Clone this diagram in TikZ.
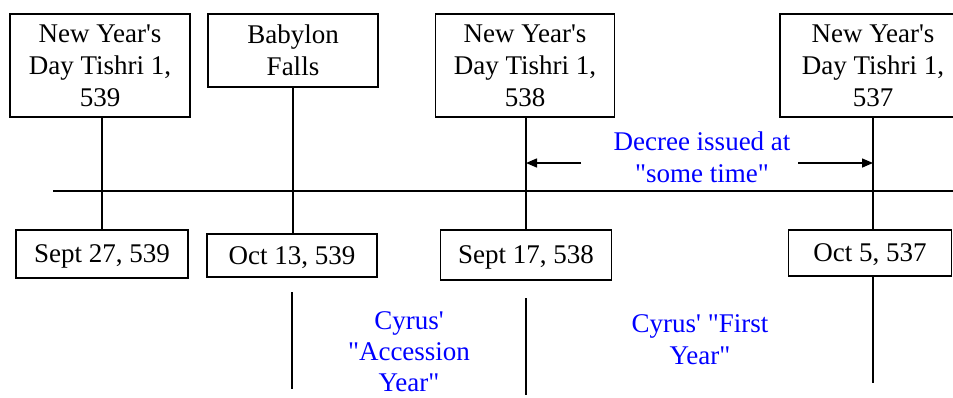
\documentclass[tikz,border=0pt]{standalone}
\usepackage{fontspec}
\setmainfont{Liberation Serif}
\usetikzlibrary{positioning,arrows.meta}

\newcommand{\sq}{\textquotesingle}
\newcommand{\dq}{\textquotedbl}

\begin{document}
\begin{tikzpicture}[
  x=1pt, y=-1pt,
  font=\fontsize{27}{32}\selectfont,
  evt/.style={rectangle, draw=black, line width=1.5pt, inner sep=0pt, fill=white, align=center},
  day/.style={evt, text depth=0pt},
  note/.style={text=blue, align=center, inner sep=0pt, anchor=north},
  tick/.style={draw=black, line width=1.5pt},
  span/.style={-{Triangle[length=11pt,width=9pt]}, draw=black, line width=1.5pt}
]
\useasboundingbox (0,0) rectangle (953,397);

% events above the line
\node[evt, minimum width=180pt, minimum height=103pt] (ny539) at (100,65.5) {New Year\sq s\\Day Tishri 1,\\539};
\node[evt, minimum width=170pt, minimum height=73pt]  (fall)  at (293,50.5) {Babylon\\Falls};
\node[evt, minimum width=179pt, minimum height=103pt] (ny538) at (525,65.5) {New Year\sq s\\Day Tishri 1,\\538};
\node[evt, minimum width=186pt, minimum height=103pt] (ny537) at (873,65.5) {New Year\sq s\\Day Tishri 1,\\537};

% dates below the line
\node[day, minimum width=172pt, minimum height=48pt] (sep27) at (102,254)   {Sept 27, 539};
\node[day, minimum width=170pt, minimum height=43pt] (oct13) at (292,255.5) {Oct 13, 539};
\node[day, minimum width=171pt, minimum height=50pt] (sep17) at (526,255)   {Sept 17, 538};
\node[day, minimum width=163pt, minimum height=46pt] (oct5)  at (870,253)   {Oct 5, 537};

% time line
\coordinate (axisL) at (53,190.75);
\coordinate (axisR) at (960,190.75);
\draw[tick] (axisL) -- (axisR);

\draw[tick] (sep27.north) -- (sep27.north |- ny539.south);
\draw[tick] (oct13.north -| fall.south) -- (fall.south);
\draw[tick] (sep17.north) -- (sep17.north |- ny538.south);
\draw[tick] (ny537.south) -- (ny537.south |- oct5.north);

% year limits
\coordinate (accA) at (292,292);
\coordinate (accB) at (292,389);
\coordinate (firA) at (526,298);
\coordinate (firB) at (526,395);
\coordinate (endB) at (873,383);
\draw[tick] (accA) -- (accB);
\draw[tick] (firA) -- (firB);
\draw[tick] (oct5.south -| endB) -- (endB);

% decree
\node[note] (decree) at (702,132) {Decree issued at\\\dq some time\dq};
\coordinate (decL) at (581,163);
\coordinate (decR) at (798,163);
\draw[span] (decL) -- (decL -| sep17.north);
\draw[span] (decR) -- (decR -| ny537.south);

\node[note, font=\fontsize{27}{31}\selectfont] (accession) at (409,311) {Cyrus\sq\\\dq Accession\\Year\dq};
\node[note] (first) at (700,314) {Cyrus\sq\ \dq First\\Year\dq};
\end{tikzpicture}
\end{document}
